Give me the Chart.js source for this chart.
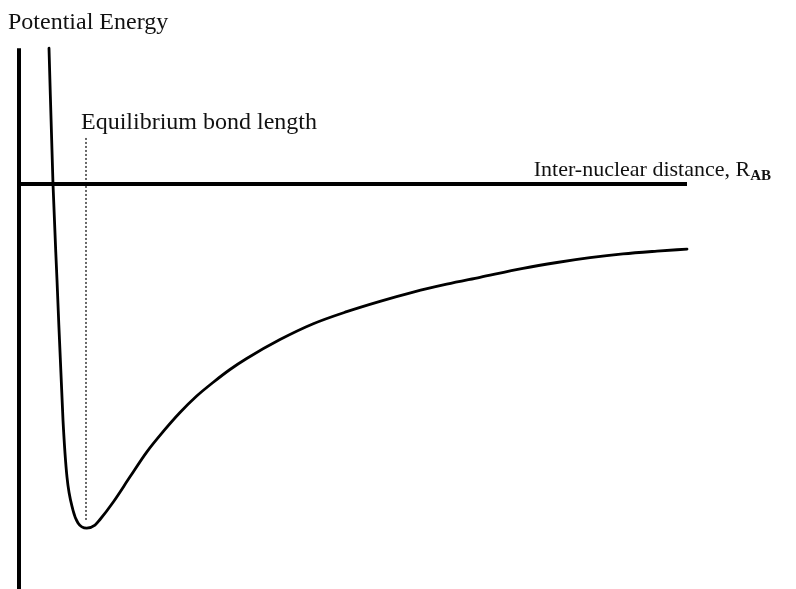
<!DOCTYPE html>
<html>
<head>
<meta charset="utf-8">
<script src="https://cdn.jsdelivr.net/npm/chart.js@4.4.1/dist/chart.umd.min.js"></script>
<style>
  html, body { margin: 0; padding: 0; background: #ffffff; }
  #wrap { width: 796px; height: 589px; }
</style>
</head>
<body>
<div id="wrap"><canvas id="pe" width="796" height="589"></canvas></div>
<script>
// Inter-nuclear distance R (arbitrary units) and potential energy (well depth = 1)
const distance = [0.30, 0.34, 0.38, 0.44, 0.48, 0.54, 0.59, 0.677, 0.76, 0.81, 0.943, 1.11, 1.277, 1.443, 1.61, 1.777, 1.943, 2.11, 2.277, 2.61, 2.943, 3.277, 3.61, 3.943, 4.277, 4.61, 5.04, 5.38, 5.71, 6.04, 6.38, 6.68];
const energy   = [0.395, 0.0, -0.279, -0.686, -0.852, -0.948, -0.985, -1.0, -0.991, -0.975, -0.924, -0.851, -0.779, -0.719, -0.664, -0.616, -0.576, -0.539, -0.507, -0.452, -0.406, -0.371, -0.341, -0.314, -0.291, -0.271, -0.245, -0.228, -0.214, -0.203, -0.195, -0.189];

// Equilibrium bond length marker
const equilibriumR = 0.67;
const markerSpan = [0.134, -0.977];

// Axis extents
const energyAxisSpan = [0.395, -1.20];
const distanceAxisSpan = [0, 6.68];

const curve = distance.map((r, i) => ({ x: r, y: energy[i] }));

const SERIF = '"Liberation Serif", "Times New Roman", serif';

const labelPlugin = {
  id: 'labels',
  afterDatasetsDraw(chart) {
    const { ctx, scales } = chart;
    const xs = scales.x, ys = scales.y;
    ctx.save();
    ctx.fillStyle = '#111';
    ctx.textBaseline = 'alphabetic';
    ctx.textAlign = 'left';
    ctx.font = '24px ' + SERIF;
    ctx.fillText('Potential Energy', 8, 29);
    ctx.fillText('Equilibrium bond length', xs.getPixelForValue(equilibriumR) - 5, 129);

    // Right-aligned axis title with subscript
    const main = 'Inter-nuclear distance, R';
    const sub = 'AB';
    ctx.font = 'bold 15px ' + SERIF;
    const subW = ctx.measureText(sub).width;
    ctx.font = '22px ' + SERIF;
    const mainW = ctx.measureText(main).width;
    const right = 771;
    const base = ys.getPixelForValue(0) - 8;
    ctx.fillText(main, right - subW - mainW, base);
    ctx.font = 'bold 15px ' + SERIF;
    ctx.fillText(sub, right - subW, base + 4);
    ctx.restore();
  }
};

new Chart(document.getElementById('pe'), {
  type: 'scatter',
  data: {
    datasets: [
      {
        label: 'energy axis',
        data: [{ x: 0, y: energyAxisSpan[0] }, { x: 0, y: energyAxisSpan[1] }],
        showLine: true, borderColor: '#000', borderWidth: 4, pointRadius: 0,
        borderCapStyle: 'butt'
      },
      {
        label: 'distance axis',
        data: [{ x: distanceAxisSpan[0], y: 0 }, { x: distanceAxisSpan[1], y: 0 }],
        showLine: true, borderColor: '#000', borderWidth: 4, pointRadius: 0,
        borderCapStyle: 'butt'
      },
      {
        label: 'equilibrium',
        data: [{ x: equilibriumR, y: markerSpan[0] }, { x: equilibriumR, y: markerSpan[1] }],
        showLine: true, borderColor: '#444', borderWidth: 1.6, borderDash: [2, 2],
        pointRadius: 0
      },
      {
        label: 'Potential Energy',
        data: curve,
        showLine: true, borderColor: '#000', borderWidth: 2.8, pointRadius: 0,
        cubicInterpolationMode: 'monotone', borderJoinStyle: 'round', borderCapStyle: 'round'
      }
    ]
  },
  options: {
    responsive: false,
    animation: false,
    layout: { padding: 0 },
    plugins: { legend: { display: false }, tooltip: { enabled: false } },
    scales: {
      x: { type: 'linear', display: false, min: -0.19, max: 7.77 },
      y: { type: 'linear', display: false, min: -1.177, max: 0.535 }
    }
  },
  plugins: [labelPlugin, {
    id: 'bg',
    beforeDraw(chart) {
      const c = chart.ctx;
      c.save(); c.fillStyle = '#fff'; c.fillRect(0, 0, chart.width, chart.height); c.restore();
    }
  }]
});
</script>
</body>
</html>
